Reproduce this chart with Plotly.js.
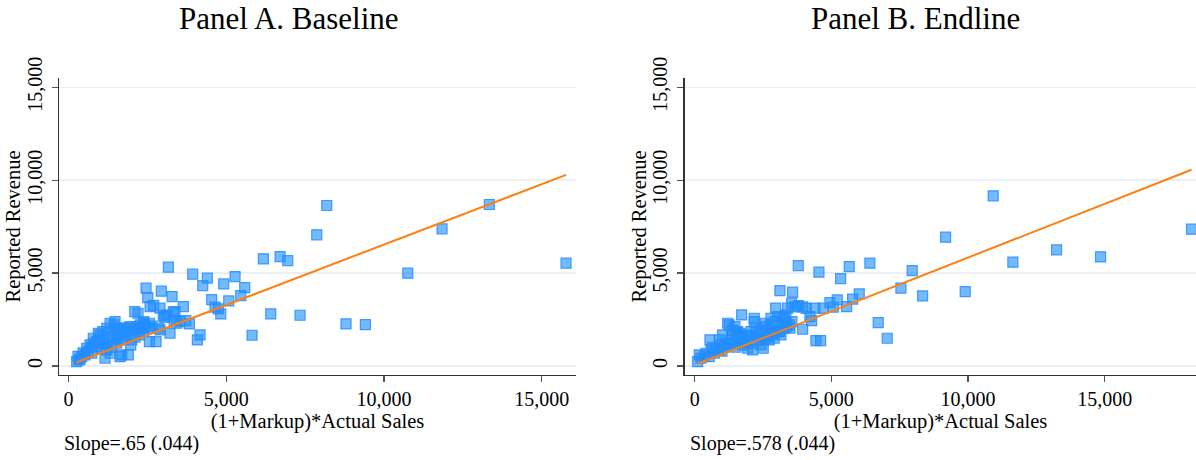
<!DOCTYPE html>
<html>
<head>
<meta charset="utf-8">
<script src="https://cdn.plot.ly/plotly-3.0.1.min.js"></script>
<style>
  html, body { margin: 0; padding: 0; background: #ffffff; }
  #chart { width: 1196px; height: 460px; }
</style>
</head>
<body>
<div id="chart"></div>
<script>
// Panel A: baseline survey, (1+markup)*actual sales vs. reported revenue
const baselineSales = [
  259, 330, 365, 418, 300, 523, 628, 577, 682, 735, 735, 786, 786, 894, 894, 946, 976, 999, 1053, 1084,
  1103, 1157, 1211, 1211, 1211, 1316, 1316, 1316, 1370, 1420, 1443, 1474, 1474, 1528, 1579, 1633, 1633, 1687, 1687, 1737,
  1791, 1845, 1845, 1897, 1950, 1972, 2004, 2055, 2108, 2162, 2099, 2204, 2245, 2267, 2321, 2372, 2372, 2394, 2426, 2457,
  2500, 2511, 2563, 2563, 2584, 2700, 2774, 2860, 2901, 2901, 2942, 3006, 3113, 3165, 3218, 3282, 3323, 3377, 3430, 3535,
  3640, 3716, 3831, 3937, 4084, 4169, 4255, 4401, 4540, 4645, 4750, 4826, 4920, 5079, 5279, 5460, 5586, 5818, 6177, 6411,
  6706, 6950, 7340, 7870, 8187, 8798, 9411, 10755, 11842, 13342, 15773,
  460, 1100, 1550, 1750, 2200, 2650, 3050, 3350
];
const baselineRevenue = [
  232, 330, 361, 501, 520, 593, 770, 953, 1131, 684, 1007, 1223, 1492, 1309, 1040, 1762, 1401, 1670, 953, 1848,
  1401, 415, 1223, 862, 2031, 1579, 684, 2301, 1007, 1492, 2209, 1848, 2387, 1223, 2031, 501, 1401, 1940, 593, 1492,
  1848, 2031, 1700, 593, 2118, 1131, 1401, 2031, 1546, 2118, 2926, 2839, 1670, 2209, 2031, 2301, 1848, 2387, 2118, 4186,
  2031, 3680, 2301, 1309, 3195, 3260, 1309, 2031, 3109, 1940, 4024, 2700, 2748, 5316, 1762, 3734, 2910, 2926, 2301, 2387,
  3195, 2441, 2263, 4940, 1401, 1670, 4328, 4725, 3570, 3163, 3071, 2802, 4418, 3502, 4813, 3788, 4220, 1654, 5765, 2802,
  5890, 5673, 2731, 7058, 8637, 2263, 2226, 4994, 7381, 8691, 5533,
  700, 1200, 1650, 2050, 1950, 2150, 2620, 2450
];

// Panel B: endline survey
const endlineSales = [
  110, 168, 230, 351, 413, 534, 560, 596, 717, 779, 900, 900, 962, 1024, 1083, 1145, 1207, 1266, 1266, 1328,
  1390, 1448, 1474, 1511, 1511, 1572, 1632, 1657, 1719, 1719, 1756, 1876, 1876, 1939, 2059, 2059, 2121, 2180, 2180, 2242,
  2242, 2304, 2388, 2425, 2461, 2509, 2510, 2583, 2608, 2608, 2633, 2729, 2791, 2791, 2791, 2816, 2875, 2911, 2948, 2963,
  3036, 3036, 3120, 3157, 3218, 3277, 3277, 3339, 3339, 3365, 3401, 3460, 3486, 3548, 3559, 3584, 3670, 3790, 3800, 3950,
  3950, 4080, 4217, 4279, 4400, 4437, 4546, 4608, 4704, 4949, 5070, 5216, 5340, 5560, 5655, 5779, 6021, 6412, 6716, 7045,
  7546, 7959, 8340, 9180, 9898, 10922, 11642, 13241, 14850, 18178,
  650, 1000, 1350, 1600, 1800, 2000, 2350, 2700, 3100, 3200
];
const endlineRevenue = [
  232, 593, 415, 539, 684, 501, 1401, 824, 684, 953, 862, 1401, 1131, 1670, 1007, 1223, 2301, 1131, 2209, 1401,
  1940, 1223, 2118, 1007, 1794, 1848, 1309, 1762, 1579, 2748, 1131, 1401, 1670, 953, 1223, 1848, 862, 2570, 2387, 1401,
  2031, 1616, 1579, 1131, 1940, 953, 1401, 2301, 1579, 2118, 1848, 1401, 1762, 2209, 2570, 1940, 1762, 1492, 2387, 3109,
  1848, 2656, 4057, 1670, 2570, 2031, 2656, 2301, 2748, 2118, 3109, 2209, 2031, 3378, 2387, 3971, 3180, 5404, 3250, 3180,
  1977, 3100, 2656, 2441, 3109, 1363, 5048, 1363, 3109, 3411, 3163, 3556, 4704, 3195, 5350, 3594, 3879, 5533, 2333, 1492,
  4186, 5135, 3772, 6934, 4003, 9159, 5587, 6250, 5873, 7365,
  1000, 800, 1650, 1550, 1250, 1600, 1800, 1650, 1850, 2300
];

// Fitted regression lines (slope as reported under each panel)
const panelTitles = ['Panel A. Baseline', 'Panel B. Endline'];
const xTitle = '(1+Markup)*Actual Sales';
const yTitle = 'Reported Revenue';
const fitSlopes = [0.65, 0.578];
const fitSlopeSE = ['.044', '.044'];
const fitSlopeText = ['.65', '.578'];
const fitIntercepts = [35, 54];
const yTickValues = [0, 5000, 10000, 15000];
const xTickValues = [0, 5000, 10000, 15000];

function fitLine(xs, slope, intercept) {
  const lo = Math.min(...xs), hi = Math.max(...xs);
  return { x: [lo, hi], y: [intercept + slope * lo, intercept + slope * hi] };
}

const serif = "'Liberation Serif', 'Times New Roman', serif";
const markerStyle = {
  symbol: 'square',
  size: 10,
  color: 'rgba(30,144,255,0.62)',
  line: { color: 'rgba(40,140,255,0.85)', width: 1.2 }
};
const lineStyle = { color: '#ff7f0e', width: 2 };

const fitA = fitLine(baselineSales, fitSlopes[0], fitIntercepts[0]);
const fitB = fitLine(endlineSales, fitSlopes[1], fitIntercepts[1]);

const traces = [
  { type: 'scatter', mode: 'markers', x: baselineSales, y: baselineRevenue, xaxis: 'x', yaxis: 'y',
    marker: markerStyle, hoverinfo: 'x+y' },
  { type: 'scatter', mode: 'lines', x: fitA.x, y: fitA.y, xaxis: 'x', yaxis: 'y', line: lineStyle },
  { type: 'scatter', mode: 'markers', x: endlineSales, y: endlineRevenue, xaxis: 'x2', yaxis: 'y2',
    marker: markerStyle, hoverinfo: 'x+y' },
  { type: 'scatter', mode: 'lines', x: fitB.x, y: fitB.y, xaxis: 'x2', yaxis: 'y2', line: lineStyle }
];

function xAxis(domain, range, anchor) {
  return {
    domain: domain, range: range, anchor: anchor,
    tickmode: 'array', tickvals: xTickValues, tickformat: ',d',
    showgrid: false, zeroline: false,
    showline: true, linecolor: '#333333', linewidth: 1.5,
    ticks: 'outside', ticklen: 6, tickwidth: 1.2, tickcolor: '#555555',
    tickfont: { family: serif, size: 20, color: '#000000' },
    title: { text: xTitle, font: { family: serif, size: 20.5, color: '#000000' }, standoff: 0 },
    automargin: false
  };
}
function yAxis(range, anchor) {
  return {
    domain: [0.1848, 0.8298], range: range, anchor: anchor,
    tickmode: 'array', tickvals: yTickValues, tickformat: ',d', tickangle: -90,
    showgrid: true, gridcolor: '#eaf0f2', gridwidth: 1.5, zeroline: false,
    showline: true, linecolor: '#333333', linewidth: 1.5,
    ticks: 'outside', ticklen: 6, tickwidth: 1.2, tickcolor: '#555555',
    ticklabelstandoff: 2,
    tickfont: { family: serif, size: 20, color: '#000000' },
    automargin: false
  };
}

function textNote(text, x, y, size, xanchor, angle) {
  return { text: text, xref: 'paper', yref: 'paper', x: x / 1196, y: 1 - y / 460,
    xanchor: xanchor, yanchor: 'middle', showarrow: false, textangle: angle || 0,
    font: { family: serif, size: size, color: '#000000' } };
}

const layout = {
  width: 1196, height: 460,
  margin: { l: 0, r: 0, t: 0, b: 0 },
  font: { family: serif, size: 20, color: '#000000' },
  paper_bgcolor: '#ffffff', plot_bgcolor: '#ffffff',
  showlegend: false,
  xaxis: xAxis([0.0496, 0.4814], [-292, 16081], 'y'),
  yaxis: yAxis([-485, 15485], 'x'),
  xaxis2: xAxis([0.5727, 1.0], [-355, 18342], 'y2'),
  yaxis2: yAxis([-485, 15485], 'x2'),
  annotations: [
    textNote(panelTitles[0], 289, 19, 31, 'center'),
    textNote(panelTitles[1], 915, 19, 31, 'center'),
    textNote(yTitle, 13, 226.5, 20.5, 'center', -90),
    textNote(yTitle, 639, 226.5, 20.5, 'center', -90),
    textNote('Slope=' + fitSlopeText[0] + ' (' + fitSlopeSE[0] + ')', 62, 443, 20, 'left'),
    textNote('Slope=' + fitSlopeText[1] + ' (' + fitSlopeSE[1] + ')', 688, 443, 20, 'left')
  ]
};

Plotly.newPlot('chart', traces, layout, { staticPlot: true, displayModeBar: false });
</script>
</body>
</html>
